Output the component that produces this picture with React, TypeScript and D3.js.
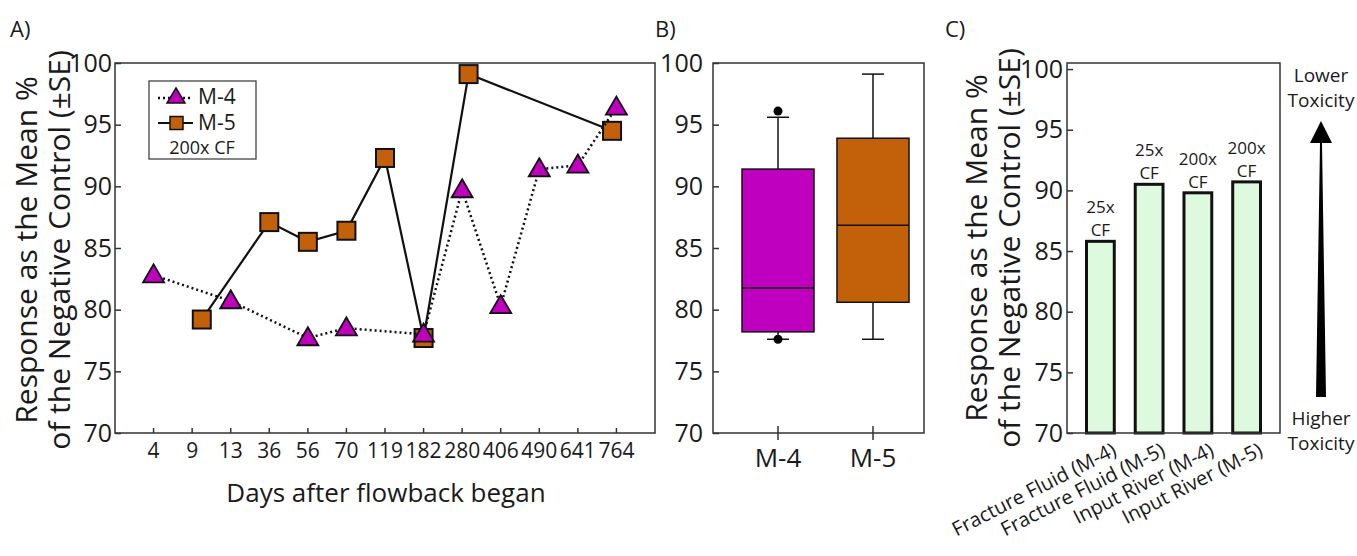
import React, { useRef, useEffect } from "react";
import * as d3 from "d3";

// Panel A: days after flowback began (categorical axis ticks)
const dayTicks = ["4", "9", "13", "36", "56", "70", "119", "182", "280", "406", "490", "641", "764"];
const m4Days = [4, 13, 56, 70, 182, 280, 406, 490, 641, 764];
const m4Values = [82.8, 80.7, 77.7, 78.5, 78.0, 89.7, 80.3, 91.4, 91.7, 96.4];
const m5Days = [10, 36, 56, 70, 119, 182, 301, 750];
const m5Values = [79.2, 87.1, 85.5, 86.4, 92.3, 77.7, 99.1, 94.5];

// Panel B: box plot summaries
const boxGroups = ["M-4", "M-5"];
const boxLow = [77.6, 77.6];
const boxQ1 = [78.2, 80.6];
const boxMedian = [81.75, 86.85];
const boxQ3 = [91.4, 93.9];
const boxHigh = [95.6, 99.1];
const boxOutliers = [[96.1, 77.6], []];

// Panel C: bar chart
const barLabels = ["Fracture Fluid (M-4)", "Fracture Fluid (M-5)", "Input River (M-4)", "Input River (M-5)"];
const barValues = [85.8, 90.5, 89.8, 90.7];
const barDose = ["25x", "25x", "200x", "200x"];

const yTicks = [70, 75, 80, 85, 90, 95, 100];

const FONT = "'Open Sans', sans-serif";
const MAGENTA = "#bf00bf";
const ORANGE = "#c2610a";
const TEXT = "#1a1a1a";

const W = 1357;
const H = 556;

const App = () => {
  const svgRef = useRef<SVGSVGElement>(null);

  useEffect(() => {
    document.body.style.margin = "0";
    const svg = d3.select(svgRef.current);
    svg.selectAll("*").remove();
    svg.attr("width", W).attr("height", H).style("font-family", FONT);

    const frame = (g, p) =>
      g
        .append("rect")
        .attr("x", p.left)
        .attr("y", p.top)
        .attr("width", p.right - p.left)
        .attr("height", p.bottom - p.top)
        .attr("fill", "none")
        .attr("stroke", "#333")
        .attr("stroke-width", 1.5);

    const yAxis = (g, scale, p, pad) => {
      const ax = g
        .append("g")
        .attr("transform", `translate(${p.left},0)`)
        .call(d3.axisLeft(scale).tickValues(yTicks).tickSizeInner(-6).tickSizeOuter(0).tickPadding(pad));
      ax.select(".domain").remove();
      ax.selectAll("line").attr("stroke", "#333").attr("stroke-width", 1.5);
      ax.selectAll("text").attr("font-family", FONT).attr("font-size", 25).attr("fill", TEXT);
    };

    const yTitle = (g, x1, x2, cy) => {
      g.append("text")
        .attr("transform", `translate(${x1},${cy}) rotate(-90)`)
        .attr("text-anchor", "middle")
        .attr("font-size", 30)
        .attr("fill", TEXT)
        .text("Response as the Mean %");
      g.append("text")
        .attr("transform", `translate(${x2},${cy}) rotate(-90)`)
        .attr("text-anchor", "middle")
        .attr("font-size", 30)
        .attr("fill", TEXT)
        .text("of  the Negative Control (±SE)");
    };

    const panelLabel = (x, text) =>
      svg.append("text").attr("x", x).attr("y", 37).attr("font-size", 22).attr("fill", TEXT).text(text);

    // ---------------- Panel A ----------------
    const pA = { left: 115, right: 655, top: 63, bottom: 433 };
    const gA = svg.append("g");
    const yA = d3.scaleLinear().domain([70, 100]).range([pA.bottom, pA.top]);
    const xTick = d3.scalePoint().domain(dayTicks).range([pA.left, pA.right]).padding(1);
    // piecewise scale so sampling days between tick days land in between
    const xA = d3
      .scaleLinear()
      .domain(dayTicks.map(Number))
      .range(dayTicks.map((d) => xTick(d)));

    frame(gA, pA);
    yAxis(gA, yA, pA, 3);

    dayTicks.forEach((d) => {
      gA.append("line")
        .attr("x1", xTick(d))
        .attr("x2", xTick(d))
        .attr("y1", pA.bottom)
        .attr("y2", pA.bottom - 5)
        .attr("stroke", "#333")
        .attr("stroke-width", 1.5);
      gA.append("text")
        .attr("x", xTick(d))
        .attr("y", pA.bottom + 25)
        .attr("text-anchor", "middle")
        .attr("font-size", 21)
        .attr("fill", TEXT)
        .text(d);
    });

    gA.append("text")
      .attr("x", 386)
      .attr("y", 502)
      .attr("text-anchor", "middle")
      .attr("font-size", 26)
      .attr("fill", TEXT)
      .text("Days after flowback began");

    yTitle(gA, 37, 70, 250);

    const m5 = m5Days.map((d, i) => [xA(d), yA(m5Values[i])]);
    const m4 = m4Days.map((d, i) => [xA(d), yA(m4Values[i])]);
    const line = d3.line();

    gA.append("path").attr("d", line(m5)).attr("fill", "none").attr("stroke", "#111").attr("stroke-width", 2.2);
    m5.forEach(([x, y]) => {
      gA.append("rect")
        .attr("x", x - 9)
        .attr("y", y - 9)
        .attr("width", 18)
        .attr("height", 18)
        .attr("fill", ORANGE)
        .attr("stroke", "#111")
        .attr("stroke-width", 2);
    });

    gA.append("path")
      .attr("d", line(m4))
      .attr("fill", "none")
      .attr("stroke", "#111")
      .attr("stroke-width", 2.5)
      .attr("stroke-dasharray", "2,3");
    const tri = (x, y, w, h) => `M${x},${y - h * 0.6}L${x + w / 2},${y + h * 0.4}L${x - w / 2},${y + h * 0.4}Z`;
    m4.forEach(([x, y]) => {
      gA.append("path").attr("d", tri(x, y, 21, 18)).attr("fill", MAGENTA).attr("stroke", "#111").attr("stroke-width", 1.8);
    });

    // legend
    const lg = gA.append("g");
    lg.append("rect")
      .attr("x", 149)
      .attr("y", 81)
      .attr("width", 107)
      .attr("height", 78)
      .attr("fill", "#fff")
      .attr("stroke", "#444")
      .attr("stroke-width", 1.3);
    lg.append("line")
      .attr("x1", 158)
      .attr("x2", 193)
      .attr("y1", 98)
      .attr("y2", 98)
      .attr("stroke", "#111")
      .attr("stroke-width", 2.5)
      .attr("stroke-dasharray", "2,3");
    lg.append("path").attr("d", tri(176, 97, 18, 15)).attr("fill", MAGENTA).attr("stroke", "#111").attr("stroke-width", 1.5);
    lg.append("line").attr("x1", 158).attr("x2", 193).attr("y1", 123).attr("y2", 123).attr("stroke", "#111").attr("stroke-width", 1.8);
    lg.append("rect")
      .attr("x", 170)
      .attr("y", 116.5)
      .attr("width", 13)
      .attr("height", 13)
      .attr("fill", ORANGE)
      .attr("stroke", "#111")
      .attr("stroke-width", 1.5);
    lg.append("text").attr("x", 198).attr("y", 104).attr("font-size", 21).attr("fill", TEXT).text("M-4");
    lg.append("text").attr("x", 198).attr("y", 130).attr("font-size", 21).attr("fill", TEXT).text("M-5");
    lg.append("text").attr("x", 202).attr("y", 154).attr("text-anchor", "middle").attr("font-size", 18).attr("fill", TEXT).text("200x CF");

    panelLabel(10, "A)");

    // ---------------- Panel B ----------------
    const pB = { left: 713, right: 924, top: 63, bottom: 433 };
    const gB = svg.append("g");
    const yB = d3.scaleLinear().domain([70, 100]).range([pB.bottom, pB.top]);
    const xB = d3.scalePoint().domain(boxGroups).range([pB.left + 65, pB.right - 51]);
    frame(gB, pB);
    yAxis(gB, yB, pB, 10);

    boxGroups.forEach((grp, i) => {
      const cx = xB(grp);
      const bw = 72;
      const cap = 22;
      const fill = i === 0 ? MAGENTA : ORANGE;
      gB.append("line").attr("x1", cx).attr("x2", cx).attr("y1", pB.bottom - 7).attr("y2", pB.bottom + 7).attr("stroke", "#333").attr("stroke-width", 1.5);
      gB.append("line").attr("x1", cx).attr("x2", cx).attr("y1", yB(boxHigh[i])).attr("y2", yB(boxLow[i])).attr("stroke", "#111").attr("stroke-width", 1.5);
      [boxHigh[i], boxLow[i]].forEach((v) => {
        gB.append("line").attr("x1", cx - cap / 2).attr("x2", cx + cap / 2).attr("y1", yB(v)).attr("y2", yB(v)).attr("stroke", "#111").attr("stroke-width", 1.5);
      });
      gB.append("rect")
        .attr("x", cx - bw / 2)
        .attr("y", yB(boxQ3[i]))
        .attr("width", bw)
        .attr("height", yB(boxQ1[i]) - yB(boxQ3[i]))
        .attr("fill", fill)
        .attr("stroke", "#111")
        .attr("stroke-width", 1.5);
      gB.append("line")
        .attr("x1", cx - bw / 2)
        .attr("x2", cx + bw / 2)
        .attr("y1", yB(boxMedian[i]))
        .attr("y2", yB(boxMedian[i]))
        .attr("stroke", "#111")
        .attr("stroke-width", 1.5);
      boxOutliers[i].forEach((v) => {
        gB.append("circle").attr("cx", cx).attr("cy", yB(v)).attr("r", 4.5).attr("fill", "#000");
      });
      gB.append("text")
        .attr("x", cx)
        .attr("y", 467)
        .attr("text-anchor", "middle")
        .attr("font-size", 26)
        .attr("fill", TEXT)
        .text(grp);
    });

    panelLabel(655, "B)");

    // ---------------- Panel C ----------------
    const pC = { left: 1067, right: 1280, top: 63, bottom: 433 };
    const gC = svg.append("g");
    const yC = d3.scaleLinear().domain([70, 100.5]).range([pC.bottom, pC.top]);
    const xC = d3.scaleBand().domain(barLabels).range([pC.left, pC.right]).paddingInner(0.43).paddingOuter(0.4);

    barLabels.forEach((lab, i) => {
      const x = xC(lab);
      gC.append("rect")
        .attr("x", x)
        .attr("y", yC(barValues[i]))
        .attr("width", xC.bandwidth())
        .attr("height", yC(70) - yC(barValues[i]))
        .attr("fill", "#ddf9de")
        .attr("stroke", "#111")
        .attr("stroke-width", 3);
      const cx = x + xC.bandwidth() / 2;
      gC.append("text")
        .attr("x", cx)
        .attr("y", yC(barValues[i]) - 28)
        .attr("text-anchor", "middle")
        .attr("font-size", 17)
        .attr("fill", TEXT)
        .text(barDose[i]);
      gC.append("text")
        .attr("x", cx)
        .attr("y", yC(barValues[i]) - 5)
        .attr("text-anchor", "middle")
        .attr("font-size", 17)
        .attr("fill", TEXT)
        .text("CF");
      gC.append("text")
        .attr("transform", `translate(${cx + 11},${pC.bottom + 9}) rotate(-27)`)
        .attr("text-anchor", "end")
        .attr("dy", "0.7em")
        .attr("font-size", 20)
        .attr("fill", TEXT)
        .text(lab);
    });

    frame(gC, pC);
    yAxis(gC, yC, pC, 4);
    yTitle(gC, 987, 1020, 248);

    // toxicity arrow
    const ax = 1321;
    gC.append("path")
      .attr("d", `M${ax - 5},397L${ax + 5},397L${ax + 1},143L${ax + 11},143L${ax},121L${ax - 11},143L${ax - 1},143Z`)
      .attr("fill", "#000");
    [
      ["Lower", 82],
      ["Toxicity", 107],
      ["Higher", 425],
      ["Toxicity", 450],
    ].forEach(([t, y]) => {
      gC.append("text").attr("x", ax).attr("y", y).attr("text-anchor", "middle").attr("font-size", 19).attr("fill", TEXT).text(t);
    });

    panelLabel(945, "C)");
  }, []);

  return <svg ref={svgRef} style={{ display: "block" }} />;
};

export default App;
